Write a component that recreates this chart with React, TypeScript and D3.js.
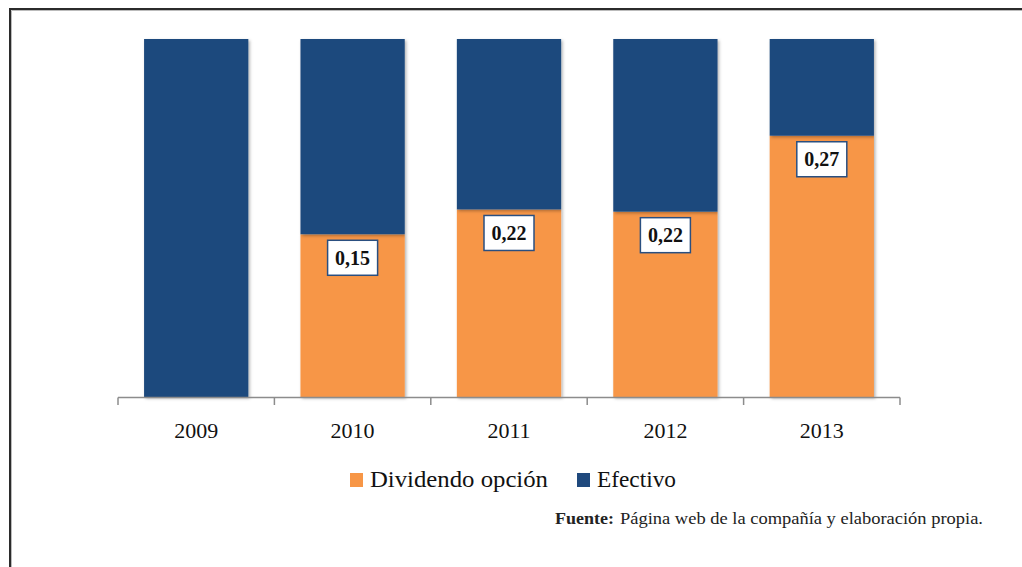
import React from "react";
import * as d3 from "d3";

const years = ["2009", "2010", "2011", "2012", "2013"];
const dividendoOpcion = [0, 0.15, 0.22, 0.22, 0.27];
const efectivo = [0.3, 0.18, 0.2, 0.205, 0.1];
const seriesNames = ["Dividendo opción", "Efectivo"];
const seriesColors = ["#F79646", "#1F497D"];
const sourceLabel = "Fuente:";
const sourceText = "Página web de la compañía y elaboración propia.";

const W = 1022;
const H = 567;
const FONT = "Liberation Serif, DejaVu Serif, serif";

type Row = { year: string; opcion: number; efectivo: number };

export default function App() {
  const rows: Row[] = years.map((y, i) => ({
    year: y,
    opcion: dividendoOpcion[i],
    efectivo: efectivo[i],
  }));

  const stack = d3
    .stack<Row>()
    .keys(["opcion", "efectivo"])
    .offset(d3.stackOffsetExpand);
  const layers = stack(rows);

  const x = d3
    .scaleBand<string>()
    .domain(years)
    .range([118, 900])
    .paddingInner(1 / 3)
    .paddingOuter(1 / 6);
  const y = d3.scaleLinear().domain([0, 1]).range([397, 39]);

  const step = x.step();
  const tickXs = d3.range(years.length + 1).map((i) => 118 + i * step);

  const txt = { fontFamily: FONT } as React.CSSProperties;

  return (
    <svg
      width={W}
      height={H}
      style={{ position: "absolute", left: 0, top: 0, background: "#fff", fontFamily: FONT }}
    >
      <defs>
        <filter id="barShadow" x="-10%" y="-10%" width="120%" height="120%">
          <feDropShadow dx="1.5" dy="1.5" stdDeviation="1.5" floodColor="#000" floodOpacity="0.3" />
        </filter>
      </defs>

      {/* frame */}
      <path d={`M10,${H} L10,9 L${W},9`} fill="none" stroke="#2b2b2b" strokeWidth={2} />
      <path d={`M11.5,${H} L11.5,10.5 L${W},10.5`} fill="none" stroke="#bbb" strokeWidth={1} />

      {/* stacked bars */}
      {layers.map((layer, li) => (
        <g key={layer.key} fill={seriesColors[li]} filter="url(#barShadow)">
          {layer.map((d, i) => {
            const h = y(d[0]) - y(d[1]);
            if (h <= 0) return null;
            return (
              <rect
                key={years[i]}
                x={x(years[i])}
                y={y(d[1])}
                width={x.bandwidth()}
                height={h}
              />
            );
          })}
        </g>
      ))}

      {/* axis */}
      <g stroke="#8c8c8c" strokeWidth={1.5}>
        <line x1={118} x2={900} y1={397.5} y2={397.5} />
        {tickXs.map((tx, i) => (
          <line key={i} x1={tx} x2={tx} y1={397.5} y2={405} />
        ))}
      </g>
      {years.map((yr) => (
        <text
          key={yr}
          x={(x(yr) as number) + x.bandwidth() / 2}
          y={437.5}
          textAnchor="middle"
          fontSize={22}
          fill="#111"
          style={txt}
        >
          {yr}
        </text>
      ))}

      {/* value labels */}
      {layers[0].map((d, i) => {
        const v = dividendoOpcion[i];
        if (!v) return null;
        const cx = (x(years[i]) as number) + x.bandwidth() / 2;
        const top = y(d[1]) + 6;
        return (
          <g key={years[i]}>
            <rect
              x={cx - 25}
              y={top}
              width={50}
              height={35}
              fill="#fff"
              stroke="#2a4f80"
              strokeWidth={1.5}
            />
            <text
              x={cx}
              y={top + 24.5}
              textAnchor="middle"
              fontSize={20}
              fontWeight="bold"
              fill="#111"
              style={txt}
            >
              {d3.format(".2f")(v).replace(".", ",")}
            </text>
          </g>
        );
      })}

      {/* legend */}
      <rect x={350} y={473} width={13} height={14} fill={seriesColors[0]} />
      <text x={370} y={487} fontSize={23} fill="#111" style={txt} textLength={178} lengthAdjust="spacingAndGlyphs">
        {seriesNames[0]}
      </text>
      <rect x={577} y={473} width={13} height={14} fill={seriesColors[1]} />
      <text x={597} y={487} fontSize={23} fill="#111" style={txt} textLength={79} lengthAdjust="spacingAndGlyphs">
        {seriesNames[1]}
      </text>

      {/* source note */}
      <text x={555} y={524} fontSize={16.5} fill="#222" fontWeight="bold" style={txt} textLength={59} lengthAdjust="spacingAndGlyphs">
        {sourceLabel}
      </text>
      <text x={620} y={524} fontSize={16.5} fill="#222" style={txt} textLength={363} lengthAdjust="spacingAndGlyphs">
        {sourceText}
      </text>
    </svg>
  );
}
